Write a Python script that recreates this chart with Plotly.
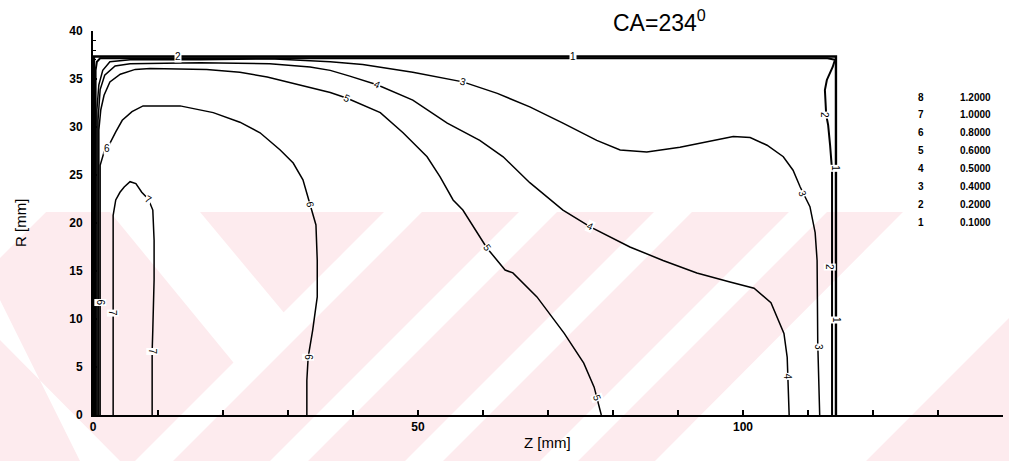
import plotly.graph_objects as go

# Contour levels (legend on the right)
level_ids = ["8", "7", "6", "5", "4", "3", "2", "1"]
level_values = ["1.2000", "1.0000", "0.8000", "0.6000", "0.5000", "0.4000", "0.2000", "0.1000"]

# Contour polylines, Z [mm] / R [mm]
c1_z = [0.15, 0.15, 114.3, 114.3]
c1_r = [0.0, 37.35, 37.35, 0.0]

c2_z = [0.4, 0.4, 0.6, 1.1, 60.0, 113.0, 114.15, 113.8, 112.9, 112.6, 112.8, 113.1, 113.4, 113.7, 113.7]
c2_r = [0.0, 35.9, 36.8, 37.15, 37.15, 37.15, 37.0, 36.25, 34.9, 33.85, 31.25, 30.2, 28.1, 25.5, 0.0]

c3_z = [0.6, 0.6, 0.9, 1.5, 2.6, 5.7, 16.5, 27.2, 36.5, 41.5, 49.2, 56.9, 62.2, 67.2, 72.3, 77.5,
        81.1, 85.2, 90.3, 95.4, 98.5, 101.1, 103.7, 106.2, 107.7, 108.8, 110.3, 111.1, 111.4, 111.5, 111.8]
c3_r = [0.0, 31.8, 34.4, 35.9, 36.8, 37.0, 37.0, 37.1, 36.8, 36.5, 35.7, 34.7, 33.5, 32.1, 30.4, 28.6,
        27.6, 27.4, 27.9, 28.6, 29.0, 28.9, 28.1, 26.9, 25.5, 23.75, 21.7, 19.0, 16.1, 7.5, 0.0]

c4_z = [0.77, 0.77, 1.1, 1.8, 3.4, 5.7, 16.5, 27.2, 33.4, 36.5, 39.5, 43.7, 49.2, 54.5, 59.5, 63.1,
        67.2, 72.3, 76.5, 82.6, 87.7, 92.9, 98.0, 101.7, 104.3, 106.3, 106.8, 107.1]
c4_r = [0.0, 30.7, 33.9, 35.4, 36.35, 36.6, 36.7, 36.6, 36.25, 35.9, 35.3, 34.4, 32.8, 30.4, 28.6, 26.9,
        24.2, 21.35, 19.6, 17.5, 16.1, 14.8, 13.85, 13.2, 11.7, 8.5, 6.0, 0.0]

c5_z = [0.9, 0.9, 1.2, 1.7, 2.6, 4.2, 6.5, 8.8, 17.5, 22.6, 26.8, 31.8, 36.5, 39.1, 44.2, 47.7, 51.4,
        53.4, 55.4, 56.9, 60.6, 63.4, 64.6, 68.3, 72.5, 75.5, 77.1, 78.2]
c5_r = [0.0, 29.7, 31.8, 33.3, 34.7, 35.5, 36.0, 36.1, 36.0, 35.7, 35.2, 34.4, 33.6, 33.0, 31.5, 29.4, 26.9,
        24.8, 22.4, 21.35, 17.4, 15.1, 14.8, 12.3, 8.5, 5.4, 2.9, 0.0]

c6_z = [1.1, 1.1, 1.7, 2.6, 3.5, 4.5, 6.0, 7.7, 13.4, 18.5, 22.6, 25.7, 28.8, 30.8, 32.3, 33.4, 34.3,
        34.5, 34.5, 33.8, 33.1, 32.9, 32.9]
c6_r = [0.0, 26.0, 27.4, 28.3, 29.5, 30.7, 31.6, 32.2, 32.2, 31.5, 30.5, 29.4, 27.6, 26.25, 24.5, 21.9, 19.8,
        16.1, 12.3, 8.85, 6.0, 3.6, 0.0]

c7_z = [3.1, 3.1, 3.5, 4.15, 4.8, 5.7, 6.6, 7.5, 8.5, 9.2, 9.4, 9.4, 9.2, 9.1, 9.1]
c7_r = [0.0, 20.8, 22.4, 23.2, 23.75, 24.3, 24.1, 23.2, 22.5, 21.35, 18.2, 14.1, 8.85, 6.6, 0.0]

# Inline contour labels: (level id, Z, R, text angle)
line_labels = [
    ("1", 73.8, 37.35, 0), ("1", 114.3, 25.7, 90), ("1", 114.3, 9.9, 90),
    ("2", 13.1, 37.3, 0), ("2", 112.6, 31.25, 90), ("2", 113.4, 15.4, 90),
    ("3", 56.9, 34.7, 15), ("3", 109.2, 23.1, 70), ("3", 111.5, 7.1, 90),
    ("4", 43.7, 34.4, 25), ("4", 76.5, 19.6, 25), ("4", 106.8, 4.0, 90),
    ("5", 39.1, 33.0, 25), ("5", 60.6, 17.4, 55), ("5", 77.5, 1.8, 70),
    ("6", 33.4, 21.9, 80), ("6", 33.1, 6.0, 90), ("6", 2.2, 27.8, 0), ("6", 1.1, 11.7, 90),
    ("7", 8.5, 22.4, 30), ("7", 3.1, 10.6, 90), ("7", 9.1, 6.6, 90),
]

W, H = 1009, 461
ML, MR, MT, MB = 93, 6, 31, 46
PW, PH = W - ML - MR, H - MT - MB


def px(x):
    return (x - ML) / PW


def py(y):
    return 1 - (y - MT) / PH


def poly(points):
    return "M " + " L ".join(f"{px(x):.4f},{py(y):.4f}" for x, y in points) + " Z"


fig = go.Figure()

# Faint pink background stamp made of diagonal bands
PINK = "#fdebee"
stamp = [[(0, 212), (1009, 212), (1009, 461), (0, 461)]]
gaps = [
    [(0, 212), (46, 212), (0, 258)],
    [(903, 212), (1009, 212), (1009, 318), (866, 461), (655, 461)],
    [(110, 212), (200, 212), (290, 320), (238, 368)],
    [(0, 300), (0, 340), (120, 461), (80, 461)],
]
# parallel "/" stripes
for x0 in (135, 270, 405, 540):
    gaps.append([(x0, 461), (x0 + 38, 461), (x0 + 38 + 249, 212), (x0 + 249, 212)])
for pts in stamp:
    fig.add_shape(type="path", path=poly(pts), xref="paper", yref="paper",
                  fillcolor=PINK, line=dict(width=0), layer="below")
for pts in gaps:
    fig.add_shape(type="path", path=poly(pts), xref="paper", yref="paper",
                  fillcolor="white", line=dict(width=0), layer="below")
# pink band in the lower right corner
fig.add_shape(type="path", path=poly([(1009, 322), (1009, 372), (920, 461), (870, 461)]),
              xref="paper", yref="paper", fillcolor=PINK, line=dict(width=0), layer="below")

contours = [(c1_z, c1_r, 2.4), (c2_z, c2_r, 2.0), (c3_z, c3_r, 1.5), (c4_z, c4_r, 1.5),
            (c5_z, c5_r, 1.5), (c6_z, c6_r, 1.5), (c7_z, c7_r, 1.5)]
for z, r, w in contours:
    fig.add_trace(go.Scatter(x=z, y=r, mode="lines", line=dict(color="black", width=w),
                             hoverinfo="skip", showlegend=False))

SANS = "Liberation Sans, Arial, sans-serif"
label_font = dict(family=SANS, size=10, color="black")
for lid, z, r, ang in line_labels:
    fig.add_annotation(x=z, y=r, text=lid, showarrow=False, font=label_font,
                       textangle=ang, bgcolor="white", borderpad=0)

# Level table on the right
for i, (lid, val) in enumerate(zip(level_ids, level_values)):
    yp = py(97 + i * 17.9)
    fig.add_annotation(x=px(921), y=yp, xref="paper", yref="paper", text=f"<b>{lid}</b>",
                       showarrow=False, xanchor="center", yanchor="middle",
                       font=dict(family=SANS, size=10, color="black"))
    fig.add_annotation(x=px(975), y=yp, xref="paper", yref="paper", text=f"<b>{val}</b>",
                       showarrow=False, xanchor="center", yanchor="middle",
                       font=dict(family=SANS, size=10, color="black"))

# Title
fig.add_annotation(x=px(659), y=py(21), xref="paper", yref="paper",
                   text="CA=234<sup>0</sup>", showarrow=False, xanchor="center", yanchor="middle",
                   font=dict(family=SANS, size=23, color="black"))

# Axis titles
fig.add_annotation(x=px(20), y=0.5, xref="paper", yref="paper", text="R [mm]",
                   textangle=-90, showarrow=False, xanchor="center", yanchor="middle",
                   font=dict(family=SANS, size=15, color="black"))
fig.add_annotation(x=px(547), y=py(442), xref="paper", yref="paper",
                   text="Z [mm]", showarrow=False, xanchor="center", yanchor="middle",
                   font=dict(family=SANS, size=15, color="black"))

fig.update_xaxes(range=[0, 140], tickmode="array", tickvals=[0, 50, 100], ticktext=["0", "50", "100"],
                 ticks="inside", ticklen=5, tickwidth=1.5, tickcolor="black",
                 minor=dict(dtick=10, tick0=0, ticks="inside", ticklen=5, tickwidth=1.5, tickcolor="black"),
                 showline=True, linecolor="black", linewidth=2, showgrid=False, zeroline=False,
                 tickfont=dict(family=SANS, size=12, color="black", weight="bold"))
fig.update_yaxes(range=[0, 40], dtick=5, ticks="inside", ticklen=4, tickwidth=1.5, tickcolor="black",
                 minor=dict(dtick=1, ticks="inside", ticklen=3, tickwidth=1, tickcolor="black"),
                 showline=True, linecolor="black", linewidth=2, showgrid=False, zeroline=False,
                 ticklabelstandoff=6,
                 tickfont=dict(family=SANS, size=12, color="black", weight="bold"))

fig.update_layout(width=W, height=H, margin=dict(l=ML, r=MR, t=MT, b=MB),
                  paper_bgcolor="white", plot_bgcolor="rgba(0,0,0,0)")

fig.write_html("out.html")
